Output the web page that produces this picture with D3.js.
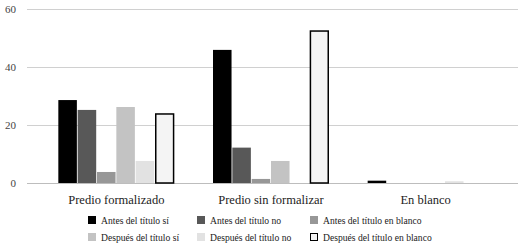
<!DOCTYPE html>
<html>
<head>
<meta charset="utf-8">
<script src="https://cdn.jsdelivr.net/npm/d3@7"></script>
<style>
  body { margin: 0; background: #fff; }
  svg { display: block; font-family: "Liberation Serif", serif; }
</style>
</head>
<body>
<svg width="523" height="244"></svg>
<script>
const categories = ["Predio formalizado", "Predio sin formalizar", "En blanco"];
const series = ["Antes del título sí", "Antes del título no", "Antes del título en blanco",
                "Después del título sí", "Después del título no", "Después del título en blanco"];
const antesSi      = [28.6, 45.9, 0.8];
const antesNo      = [25.2, 12.2, 0];
const antesBlanco  = [3.8, 1.4, 0];
const despuesSi    = [26.2, 7.6, 0];
const despuesNo    = [7.6, 0, 0.6];
const despuesBlanco= [23.8, 52.4, 0];
const yTicks = [0, 20, 40, 60];

const values = [antesSi, antesNo, antesBlanco, despuesSi, despuesNo, despuesBlanco];
const colors = ["#000000", "#585858", "#979797", "#c3c3c3", "#e2e2e2", "#f4f4f4"];

const svg = d3.select("svg");
const area = { left: 27, right: 518, top: 9, bottom: 183 };

const scY = d3.scaleLinear().domain([0, 60]).range([area.bottom, area.top]);
const scX = d3.scaleBand().domain(categories).range([39, 503]);
const bw = scX.bandwidth();
const scS = d3.scaleBand().domain(series).range([bw * 0.125, bw * 0.875]);

// grid
svg.append("g")
  .selectAll("line")
  .data(yTicks)
  .join("line")
  .attr("x1", area.left)
  .attr("x2", area.right)
  .attr("y1", d => scY(d) + 0.5)
  .attr("y2", d => scY(d) + 0.5)
  .attr("stroke", d => d === 0 ? "#bdbdbd" : "#d0d0d0")
  .attr("stroke-width", 1);

svg.append("g")
  .selectAll("text")
  .data(yTicks)
  .join("text")
  .attr("x", 16)
  .attr("y", d => scY(d) + 4)
  .attr("text-anchor", "end")
  .attr("font-size", 11)
  .attr("fill", "#444")
  .text(d => d);

// bars
series.forEach((s, i) => {
  svg.append("g")
    .selectAll("rect")
    .data(categories.map((c, j) => ({ c, v: values[i][j] })).filter(d => d.v > 0))
    .join("rect")
    .attr("x", d => scX(d.c) + scS(s) + (i === 5 ? 0.75 : 0))
    .attr("y", d => scY(d.v))
    .attr("width", scS.bandwidth() - (i === 5 ? 1.5 : 0.8))
    .attr("height", d => scY(0) - scY(d.v))
    .attr("fill", colors[i])
    .attr("stroke", i === 5 ? "#000" : "none")
    .attr("stroke-width", 1.5);
});

// category labels
svg.append("g")
  .selectAll("text")
  .data(categories)
  .join("text")
  .attr("x", d => scX(d) + bw / 2)
  .attr("y", 204)
  .attr("text-anchor", "middle")
  .attr("font-size", 12.5)
  .attr("fill", "#222")
  .text(d => d);

// legend
const legX = [88, 197, 310];
const legY = [220, 237];
const leg = svg.append("g")
  .selectAll("g")
  .data(series)
  .join("g")
  .attr("transform", (d, i) => `translate(${legX[i % 3]}, ${legY[Math.floor(i / 3)]})`);

leg.append("rect")
  .attr("x", (d, i) => i === 5 ? 0.5 : 0)
  .attr("y", (d, i) => i === 5 ? -3.5 : -4)
  .attr("width", (d, i) => i === 5 ? 7 : 8)
  .attr("height", (d, i) => i === 5 ? 7 : 8)
  .attr("fill", (d, i) => colors[i])
  .attr("stroke", (d, i) => i === 5 ? "#000" : "none");

leg.append("text")
  .attr("x", 13)
  .attr("y", 3.5)
  .attr("font-size", 9.6)
  .attr("fill", "#222")
  .text(d => d);
</script>
</body>
</html>
